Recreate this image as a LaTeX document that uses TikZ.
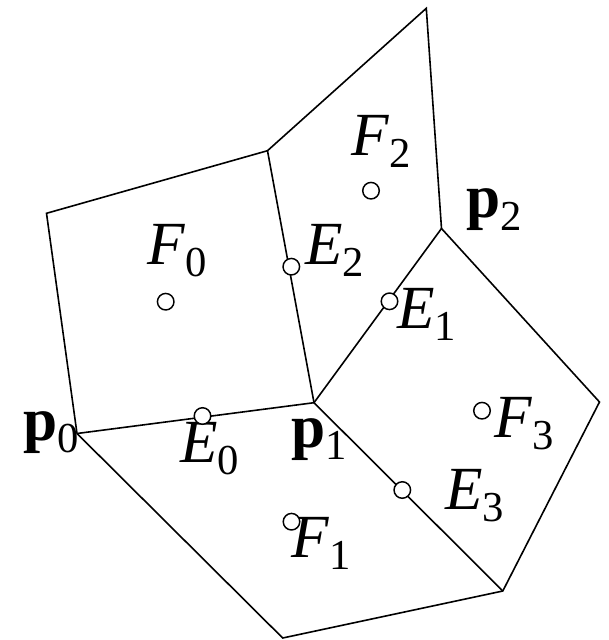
\documentclass[tikz,border=0pt]{standalone}
\usepackage{fontspec}
\setmainfont{Liberation Serif}
\newcommand{\lab}[2]{\textit{#1}\raisebox{-9.6pt}{\fontsize{32}{32}\selectfont #2}}
\newcommand{\blab}[2]{\textbf{#1}\raisebox{-9.6pt}{\fontsize{32}{32}\selectfont #2}}
\tikzset{px/.style={x=0.75pt,y=-0.75pt},
 edge/.style={draw=black,line width=1.2pt,line join=miter},
 pt/.style={circle,draw=black,fill=white,line width=1.1pt,minimum size=12.4pt,inner sep=0pt},
 txt/.style={font=\fontsize{46}{46}\selectfont,inner sep=0pt,anchor=base west}}
\begin{document}
\begin{tikzpicture}[px]
\useasboundingbox (0,0) rectangle (609,640);
\fill[white] (0,0) rectangle (609,640);
\foreach \n/\x/\y in {a/46.5/213.3,b/267.5/150.7,c/426.3/8.3,d/441.5/228.5,e/599.5/402,f/502.8/591,g/282.7/638,h/77/433.5,i/314/402.7}
  \coordinate (\n) at (\x,\y);
\draw[edge] (h)--(a)--(b)--(c)--(d)--(e)--(f)--(g)--(h);
\draw[edge] (h)--(i)--(d);
\draw[edge] (b)--(i)--(f);
\node[txt] (tF0) at (147,264) {\lab{F}{0}};
\node[txt] (tF2) at (351,155) {\lab{F}{2}};
\node[txt] (tF3) at (494,437) {\lab{F}{3}};
\node[txt] (tF1) at (291,557) {\lab{F}{1}};
\node[txt] (tE0) at (180,462) {\lab{E}{0}};
\node[txt] (tE1) at (397,328) {\lab{E}{1}};
\node[txt] (tE2) at (305,264) {\lab{E}{2}};
\node[txt] (tE3) at (445,509) {\lab{E}{3}};
\node[txt] (p0) at (23,440) {\blab{p}{0}};
\node[txt] (p1) at (291,447) {\blab{p}{1}};
\node[txt] (p2) at (466,217.5) {\blab{p}{2}};
\node[pt] (F0) at (165.7,301.7) {};
\node[pt] (F2) at (371,190.7) {};
\node[pt] (F3) at (482,410.7) {};
\node[pt] (F1) at (291.5,521.7) {};
\node[pt] (E0) at (202.5,416) {};
\node[pt] (E1) at (389.5,301.3) {};
\node[pt] (E2) at (291.3,266.7) {};
\node[pt] (E3) at (402.3,490) {};
\end{tikzpicture}
\end{document}
